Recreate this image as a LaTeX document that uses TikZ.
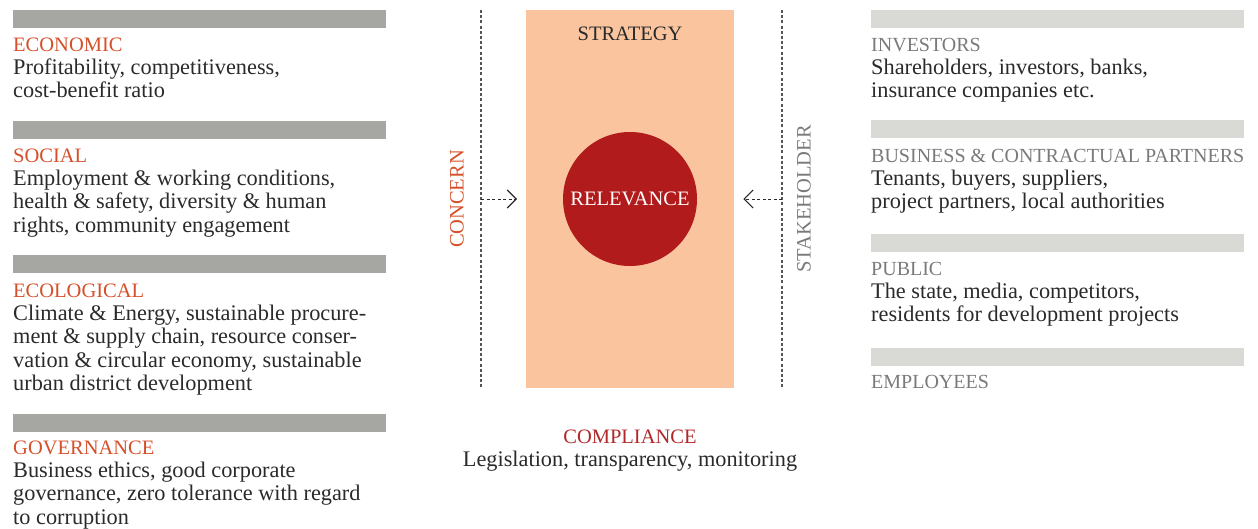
\documentclass[tikz,border=0pt]{standalone}
\usepackage{fontspec}
\setmainfont{Liberation Serif}
\usetikzlibrary{arrows.meta}
\definecolor{barL}{HTML}{A6A6A2}
\definecolor{barR}{HTML}{D9D9D6}
\definecolor{headL}{HTML}{D5502A}
\definecolor{headR}{HTML}{7A7A7A}
\definecolor{txt}{HTML}{2A2A2A}
\definecolor{peach}{HTML}{F9C49E}
\definecolor{relred}{HTML}{B11B1C}
\definecolor{compred}{HTML}{B0282A}
\definecolor{dotc}{HTML}{555555}
\newcommand{\hdL}[1]{{\fontsize{20.5}{23.4}\selectfont\color{headL}#1}}
\newcommand{\hdR}[1]{{\fontsize{20}{23.4}\selectfont\color{headR}#1}}
\tikzset{
  bar/.style={draw=none, minimum width=373pt, minimum height=18pt, inner sep=0pt, anchor=north west},
  block/.style={anchor=base west, align=left, inner sep=0pt, text=txt, font=\fontsize{22.3}{23.4}\selectfont},
  caps/.style={font=\fontsize{20.5}{24}\selectfont},
  dotline/.style={draw=dotc, line width=1.1pt, dash pattern=on 3pt off 2.2pt},
  arr/.style={draw=txt, line width=1pt, dash pattern=on 3pt off 2.5pt, -{Straight Barb[length=9pt,width=18pt,line width=1.1pt]}},
}
\begin{document}
\begin{tikzpicture}[x=1pt,y=-1pt]
\useasboundingbox (0,0) rectangle (1258,528);
% left bars
\node[bar, fill=barL] (bl1) at (13,10) {};
\node[bar, fill=barL] (bl2) at (13,121) {};
\node[bar, fill=barL] (bl3) at (13,255) {};
\node[bar, fill=barL] (bl4) at (13,414) {};
% left blocks (anchored at baseline of last line)
\node[block] (econ) at (13,97.8) {\hdL{ECONOMIC}\\Profitability, competitiveness,\\cost-benefit ratio};
\node[block] (soc) at (13,232.2) {\hdL{SOCIAL}\\Employment \& working conditions,\\health \& safety, diversity \& human\\rights, community engagement};
\node[block] (eco) at (13,390.6) {\hdL{ECOLOGICAL}\\Climate \& Energy, sustainable procure-\\ment \& supply chain, resource conser-\\vation \& circular economy, sustainable\\urban district development};
\node[block] (gov) at (13,524.2) {\hdL{GOVERNANCE}\\Business ethics, good corporate\\governance, zero tolerance with regard\\to corruption};
% right bars
\node[bar, fill=barR] (br1) at (871,10) {};
\node[bar, fill=barR] (br2) at (871,120) {};
\node[bar, fill=barR] (br3) at (871,234) {};
\node[bar, fill=barR] (br4) at (871,348) {};
% right blocks
\node[block] (inv) at (871,97.8) {\hdR{INVESTORS}\\Shareholders, investors, banks,\\insurance companies etc.};
\node[block] (bus) at (871,208.8) {\hdR{BUSINESS \& CONTRACTUAL PARTNERS}\\Tenants, buyers, suppliers,\\project partners, local authorities};
\node[block] (pub) at (871,321.8) {\hdR{PUBLIC}\\The state, media, competitors,\\residents for development projects};
\node[block] (emp) at (871,388) {\hdR{EMPLOYEES}};
% centre
\node[draw=none, fill=peach, minimum width=208pt, minimum height=378pt, inner sep=0pt, anchor=north west] (strat) at (526,10) {};
\node[caps, text=txt, anchor=base, inner sep=0pt] (stratlbl) at (630,40) {STRATEGY};
\node[circle, fill=relred, minimum size=134pt, inner sep=0pt, text=white, caps] (rel) at (630,199) {RELEVANCE};
% dotted lines
\coordinate (cl1) at (481,10);
\coordinate (cl2) at (481,388);
\coordinate (cr1) at (782,10);
\coordinate (cr2) at (782,388);
\draw[dotline] (cl1) -- (cl2);
\draw[dotline] (cr1) -- (cr2);
\coordinate (al) at (481,199);
\coordinate (ar) at (782,199);
\draw[arr, shorten >=9pt] (al) -- (al -| strat.west);
\draw[arr, shorten >=9pt] (ar) -- (ar -| strat.east);
\node[rotate=90, text=headL, caps] (concern) at (457,199) {CONCERN};
\node[rotate=90, text=headR, caps] (stake) at (804,199) {STAKEHOLDER};
% compliance
\node[anchor=base, text=compred, caps, inner sep=0pt] (comp) at (630,443) {COMPLIANCE};
\node[anchor=base, text=txt, font=\fontsize{22.3}{24}\selectfont, inner sep=0pt] (leg) at (630,466) {Legislation, transparency, monitoring};
\end{tikzpicture}
\end{document}
